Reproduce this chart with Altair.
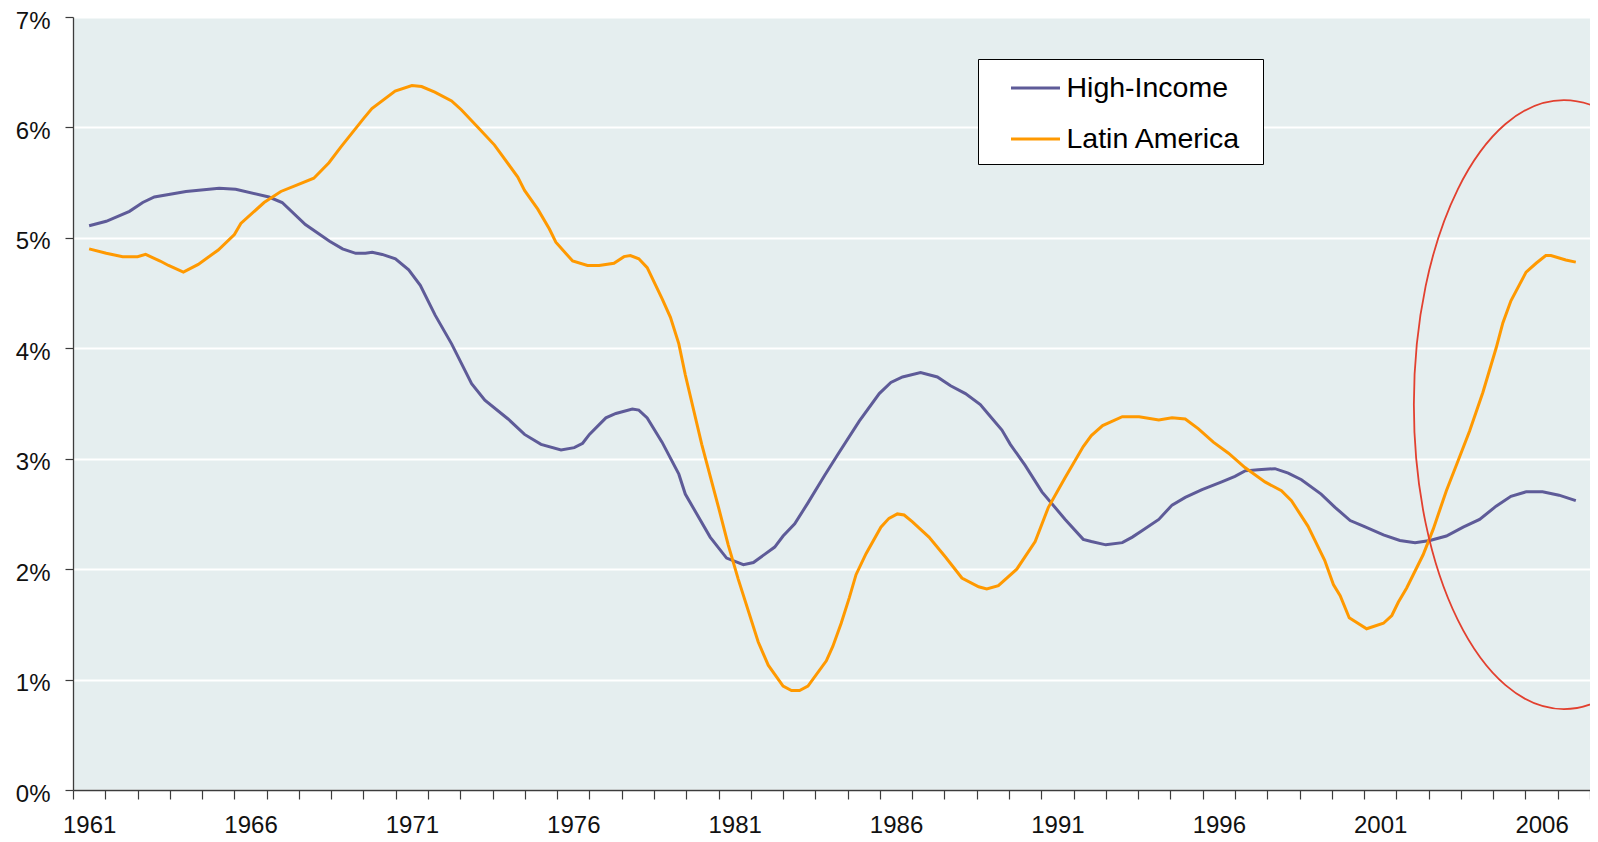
import altair as alt
import pandas as pd

# ---------------- data ----------------
series_names = ["High-Income", "Latin America"]
series_colors = ["#5E5B98", "#FF9900"]

hi_years = [1961.0, 1961.53, 1962.25, 1962.66, 1963.02, 1964.0, 1965.03, 1965.54, 1966.57, 1966.98,
            1967.7, 1968.45, 1968.85, 1969.26, 1969.56, 1969.77, 1970.08, 1970.49, 1970.9, 1971.26,
            1971.72, 1972.23, 1972.85, 1973.26, 1973.98, 1974.49, 1975.0, 1975.62, 1976.03, 1976.29,
            1976.5, 1977.01, 1977.32, 1977.83, 1978.03, 1978.29, 1978.75, 1979.27, 1979.47, 1980.24,
            1980.75, 1981.27, 1981.58, 1982.24, 1982.5, 1982.86, 1983.27, 1983.79, 1984.2,
            1984.86, 1985.48, 1985.84, 1986.2, 1986.76, 1987.28, 1987.69, 1988.15, 1988.61, 1988.87,
            1989.28, 1989.54, 1990.0, 1990.52, 1991.24, 1991.8, 1992.05, 1992.5, 1993.01, 1993.32,
            1993.63, 1994.14, 1994.55, 1994.96, 1995.48, 1996.09, 1996.5, 1996.81, 1997.22, 1997.74,
            1998.15, 1998.56, 1999.17, 1999.6, 2000.07, 2000.48, 2001.1, 2001.61, 2002.08, 2002.54,
            2003.05, 2003.57, 2004.08, 2004.59, 2005.05, 2005.52, 2006.03, 2006.54, 2007.06]
hi_values = [5.11, 5.15, 5.24, 5.32, 5.37, 5.42, 5.45, 5.44, 5.37, 5.32,
             5.12, 4.97, 4.90, 4.86, 4.86, 4.87, 4.85, 4.81, 4.71, 4.57,
             4.30, 4.04, 3.68, 3.53, 3.36, 3.22, 3.13, 3.08, 3.10, 3.14,
             3.22, 3.37, 3.41, 3.45, 3.44, 3.37, 3.15, 2.86, 2.68, 2.29,
             2.10, 2.04, 2.06, 2.20, 2.30, 2.41, 2.60, 2.85, 3.04,
             3.34, 3.59, 3.69, 3.74, 3.78, 3.74, 3.66, 3.59, 3.49, 3.40,
             3.26, 3.13, 2.94, 2.70, 2.45, 2.27, 2.25, 2.22, 2.24, 2.29,
             2.35, 2.45, 2.58, 2.65, 2.72, 2.79, 2.84, 2.89, 2.90, 2.91,
             2.87, 2.81, 2.68, 2.56, 2.44, 2.39, 2.31, 2.26, 2.24, 2.26,
             2.30, 2.38, 2.45, 2.57, 2.66, 2.70, 2.70, 2.67, 2.62]

la_years = [1961.0, 1961.53, 1962.04, 1962.5, 1962.75, 1963.2, 1963.46, 1963.92, 1964.38, 1965.0,
            1965.5, 1965.7, 1966.42, 1966.94, 1967.45, 1967.96, 1968.43, 1968.79, 1969.5, 1969.76,
            1970.48, 1971.0, 1971.3, 1971.71, 1972.23, 1972.53, 1973.05, 1973.56, 1974.28, 1974.49,
            1974.9, 1975.26, 1975.46, 1975.98, 1976.44, 1976.8, 1977.26, 1977.57, 1977.77, 1978.03,
            1978.29, 1978.75, 1979.01, 1979.27, 1979.47, 1979.98, 1980.5, 1980.8, 1981.11, 1981.73,
            1982.04, 1982.5, 1982.76, 1983.01, 1983.27, 1983.84, 1984.04, 1984.3, 1984.55, 1984.76,
            1985.07, 1985.53, 1985.78, 1986.04, 1986.25, 1986.5, 1987.02, 1987.53, 1988.04, 1988.56,
            1988.81, 1989.17, 1989.74, 1990.31, 1990.72, 1991.24, 1991.8, 1992.05, 1992.4, 1993.01,
            1993.53, 1994.14, 1994.55, 1994.96, 1995.37, 1995.83, 1996.3, 1996.81, 1997.43, 1997.94,
            1998.25, 1998.76, 1999.28, 1999.55, 1999.76, 2000.04, 2000.58, 2001.1, 2001.36, 2001.56,
            2001.82, 2002.33, 2002.64, 2003.05, 2003.41, 2003.77, 2004.18, 2004.59, 2004.8, 2005.05,
            2005.52, 2005.83, 2006.13, 2006.29, 2006.75, 2007.06]
la_values = [4.90, 4.86, 4.83, 4.83, 4.85, 4.79, 4.75, 4.69, 4.76, 4.89,
             5.03, 5.13, 5.32, 5.42, 5.48, 5.54, 5.68, 5.82, 6.08, 6.17,
             6.33, 6.38, 6.37, 6.32, 6.24, 6.16, 6.00, 5.84, 5.55, 5.43,
             5.26, 5.08, 4.96, 4.79, 4.75, 4.75, 4.77, 4.83, 4.84, 4.81,
             4.73, 4.45, 4.28, 4.04, 3.76, 3.13, 2.56, 2.22, 1.91, 1.34,
             1.13, 0.94, 0.90, 0.90, 0.94, 1.17, 1.30, 1.51, 1.74, 1.95,
             2.14, 2.38, 2.46, 2.50, 2.49, 2.43, 2.29, 2.11, 1.92, 1.84,
             1.82, 1.85, 2.00, 2.25, 2.56, 2.83, 3.11, 3.21, 3.30, 3.38,
             3.38, 3.35, 3.37, 3.36, 3.27, 3.15, 3.05, 2.92, 2.79, 2.71,
             2.62, 2.39, 2.08, 1.86, 1.76, 1.56, 1.46, 1.51, 1.58, 1.70,
             1.83, 2.13, 2.36, 2.71, 2.98, 3.25, 3.60, 4.00, 4.23, 4.43,
             4.69, 4.77, 4.84, 4.84, 4.80, 4.78]

y_ticks = [0, 1, 2, 3, 4, 5, 6, 7]
x_label_years = [1961, 1966, 1971, 1976, 1981, 1986, 1991, 1996, 2001, 2006]
first_year, last_year = 1961, 2007

# highlighted region (ellipse annotation): centre in data units
highlight_year = 2006.69
highlight_value = 3.49

# ---------------- layout ----------------
W, H = 1517, 773
year_px = W / (last_year - first_year + 1)

df = pd.concat([
    pd.DataFrame({"year": hi_years, "value": hi_values, "series": series_names[0]}),
    pd.DataFrame({"year": la_years, "value": la_values, "series": series_names[1]}),
], ignore_index=True)

tick_positions = [y - 0.5 for y in range(first_year, last_year + 2)]
label_list = ",".join(str(v) for v in x_label_years)

FONT = "Liberation Sans"
AX = "#3c3c3c"

x_enc = alt.X(
    "year:Q",
    scale=alt.Scale(domain=[first_year - 0.5, last_year + 0.5], nice=False, zero=False),
    axis=alt.Axis(
        values=tick_positions,
        labelExpr=f"indexof([{label_list}], datum.value + 0.5) >= 0 ? toString(datum.value + 0.5) : ''",
        labelOffset=year_px / 2,
        labelFlush=False,
        labelOverlap=False,
        grid=False,
        domainColor=AX, domainWidth=1.3,
        tickColor=AX, tickWidth=1.2, tickSize=9,
        labelFont=FONT, labelFontSize=24, labelColor="#111111",
        labelPadding=14,
        title=None,
    ),
)
y_enc = alt.Y(
    "value:Q",
    scale=alt.Scale(domain=[0, 7], nice=False),
    axis=alt.Axis(
        values=y_ticks,
        labelExpr="datum.value + '%'",
        grid=True, gridColor="white", gridWidth=2,
        domainColor=AX, domainWidth=1.3,
        tickColor=AX, tickWidth=1.2, tickSize=8,
        labelFont=FONT, labelFontSize=24, labelColor="#111111",
        labelPadding=15, labelOffset=4,
        title=None,
    ),
)

# legend geometry: rows centred by sqrt(symbolSize); the stroke symbol itself
# is drawn from a path offset to the right so it sits where the reference has it
sym_s = 34.8
sym_unit = sym_s / 2
sym_left, sym_right = 4.0, 53.0          # px from the symbol centre
legend_symbol = f"M {sym_left / sym_unit:.3f} 0 L {sym_right / sym_unit:.3f} 0"

lines = alt.Chart(df).mark_line(strokeWidth=3, clip=True).encode(
    x=x_enc,
    y=y_enc,
    color=alt.Color(
        "series:N",
        scale=alt.Scale(domain=series_names, range=series_colors),
        legend=alt.Legend(
            orient="none", legendX=905, legendY=42,
            title=" ", titleOrient="right", titleFontSize=24, titlePadding=12,
            symbolType=legend_symbol, symbolSize=sym_s ** 2, symbolStrokeWidth=3,
            labelFont=FONT, labelFontSize=28.5, labelColor="#000000",
            labelOffset=40.5, labelLimit=600,
            padding=10, rowPadding=17,
            fillColor="white", strokeColor="black",
        ),
    ),
    order="year:Q",
)

# ellipse annotation drawn as a custom symbol (unit path, scaled by size)
ellipse_half_height_px = 304.5
ellipse_half_width_px = 150.0
rx_ratio = ellipse_half_width_px / ellipse_half_height_px
k = 0.5523
ka = rx_ratio * k
ellipse_path = (
    f"M 0 -1 C {ka:.4f} -1 {rx_ratio:.4f} -{k} {rx_ratio:.4f} 0 "
    f"C {rx_ratio:.4f} {k} {ka:.4f} 1 0 1 "
    f"C -{ka:.4f} 1 -{rx_ratio:.4f} {k} -{rx_ratio:.4f} 0 "
    f"C -{rx_ratio:.4f} -{k} -{ka:.4f} -1 0 -1 Z"
)
ellipse = alt.Chart(pd.DataFrame({"year": [highlight_year], "value": [highlight_value]})).mark_point(
    shape=ellipse_path,
    size=(2 * ellipse_half_height_px) ** 2,
    filled=False,
    color="#E2402F",
    strokeWidth=1.8,
    opacity=1,
    clip=True,
).encode(x=x_enc, y=y_enc)

chart = (
    alt.layer(lines, ellipse)
    .properties(
        width=W, height=H,
        autosize=alt.AutoSizeParams(type="none"),
        padding={"left": 65, "top": 9, "right": 0, "bottom": 48},
    )
    .configure_view(fill="#E5EEEF", stroke="transparent")
)

chart.save("out.html", embed_options={"renderer": "svg", "actions": False})
